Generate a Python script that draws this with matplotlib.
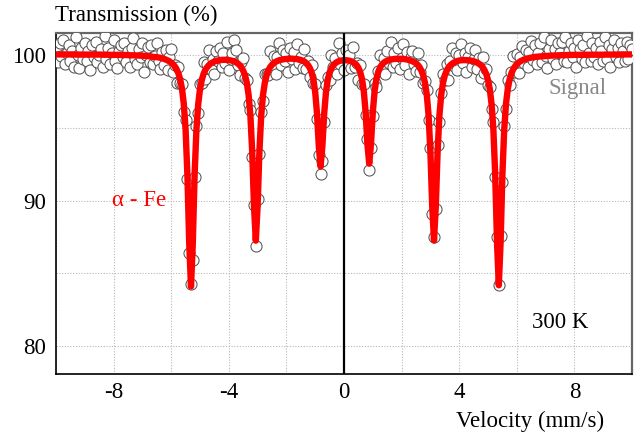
import numpy as np
import matplotlib
matplotlib.use("Agg")
import matplotlib.pyplot as plt

# ---- data -------------------------------------------------------------
# velocity channels (mm/s), uniform channel grid
n_channels = 321
velocity = np.linspace(-10.0, 10.0, n_channels)

# measured transmission (%) per channel
signal = [
    100.4, 99.5, 100.8, 99.9, 101.0, 99.35, 100.1, 100.65, 99.6, 100.25, 99.2, 101.2, 100.0, 99.1, 100.5, 99.75, 100.8, 99.6, 100.25, 98.95,
    100.65, 99.85, 100.9, 99.5, 100.0, 100.4, 99.2, 101.3, 99.75, 100.5, 99.35, 100.1, 101.0, 99.6, 99.1, 100.25, 100.65, 99.85, 100.8, 99.5,
    100.25, 99.2, 100.5, 101.15, 99.75, 99.35, 100.4, 99.85, 100.8, 98.85, 100.0, 100.55, 99.5, 100.7, 99.4, 99.9, 100.8, 99.55, 99.0, 100.2,
    99.3, 100.35, 98.95, 99.85, 100.4, 98.8, 99.3, 98.1, 99.2, 98.05, 98.0, 96.1, 95.5, 91.5, 86.4, 84.3, 85.9, 91.6, 95.1, 96.0,
    98.0, 98.1, 99.5, 98.35, 99.35, 100.35, 99.0, 99.75, 98.7, 100.25, 99.6, 100.5, 99.2, 100.1, 99.45, 100.9, 98.95, 99.7, 100.1, 101.0,
    100.3, 99.3, 98.65, 99.5, 99.8, 98.4, 98.3, 96.6, 96.2, 93.0, 89.7, 86.9, 90.1, 93.2, 96.1, 96.8, 98.7, 98.7, 98.6, 100.25,
    99.0, 99.9, 98.7, 99.85, 100.8, 99.3, 100.35, 99.55, 100.1, 98.8, 100.5, 99.7, 100.2, 99.05, 100.75, 99.45, 99.85, 99.1, 100.4, 99.0,
    99.55, 98.45, 99.3, 98.1, 98.0, 95.6, 93.1, 91.8, 92.7, 95.4, 97.9, 98.5, 98.3, 100.0, 99.2, 99.8, 98.7, 100.8, 99.35, 100.1,
    98.95, 100.35, 99.45, 100.0, 99.1, 100.55, 99.15, 99.45, 98.3, 99.3, 98.0, 98.0, 95.9, 94.2, 92.1, 93.6, 95.8, 98.1, 97.8, 98.9,
    100.0, 98.9, 99.8, 98.7, 100.25, 99.45, 100.9, 99.2, 100.1, 99.45, 100.5, 99.05, 99.8, 100.75, 99.3, 100.2, 98.7, 99.85, 100.25, 99.35,
    98.9, 100.1, 98.85, 99.3, 98.1, 98.2, 97.6, 95.5, 93.6, 89.1, 87.5, 89.4, 93.8, 95.4, 97.4, 98.7, 98.3, 99.4, 98.3, 99.55,
    100.45, 99.25, 100.15, 98.95, 100.0, 100.75, 99.45, 100.1, 98.85, 99.85, 100.5, 99.2, 99.75, 100.3, 99.0, 99.8, 98.4, 99.85, 98.75, 99.0,
    97.9, 97.8, 96.3, 95.4, 91.6, 87.5, 84.2, 87.6, 91.3, 95.1, 96.3, 98.3, 97.9, 98.8, 99.9, 98.8, 100.05, 98.75, 99.85, 100.6,
    99.45, 100.35, 99.15, 100.2, 100.95, 99.65, 100.7, 99.4, 100.15, 100.8, 99.5, 101.2, 99.9, 99.1, 100.4, 101.05, 99.75, 100.4, 99.35, 100.8,
    100.15, 100.9, 99.6, 101.2, 99.5, 100.25, 100.8, 99.85, 100.5, 99.2, 101.05, 100.4, 99.75, 100.65, 99.5, 101.3, 100.15, 99.6, 100.8, 99.85,
    100.5, 99.35, 100.9, 100.25, 99.6, 101.2, 99.75, 100.65, 99.2, 100.4, 101.05, 99.85, 100.5, 99.5, 100.8, 100.25, 99.6, 100.9, 99.75, 100.65, 100.4,
]

# fitted alpha-Fe sextet (%) per channel
fit = [
    100.03, 100.03, 100.03, 100.03, 100.03, 100.03, 100.03, 100.03, 100.03, 100.03, 100.03, 100.02, 100.02, 100.02, 100.02, 100.02, 100.02, 100.02, 100.02, 100.02,
    100.02, 100.02, 100.02, 100.02, 100.02, 100.02, 100.01, 100.01, 100.01, 100.01, 100.00, 100.00, 100.00, 100.00, 100.00, 100.00, 99.99, 99.99, 99.99, 99.99,
    99.98, 99.97, 99.97, 99.97, 99.96, 99.96, 99.95, 99.95, 99.94, 99.93, 99.92, 99.91, 99.90, 99.88, 99.86, 99.85, 99.84, 99.82, 99.80, 99.77,
    99.72, 99.68, 99.62, 99.56, 99.47, 99.36, 99.21, 99.01, 98.73, 98.31, 97.67, 96.63, 94.86, 91.76, 87.10, 84.10, 87.08, 91.74, 94.84, 96.61,
    97.65, 98.28, 98.70, 98.98, 99.16, 99.30, 99.41, 99.48, 99.54, 99.58, 99.62, 99.64, 99.65, 99.66, 99.66, 99.65, 99.64, 99.62, 99.59, 99.55,
    99.49, 99.41, 99.30, 99.14, 98.91, 98.59, 98.08, 97.25, 95.83, 93.35, 89.63, 87.25, 89.63, 93.35, 95.83, 97.25, 98.08, 98.59, 98.94, 99.16,
    99.32, 99.44, 99.52, 99.58, 99.63, 99.66, 99.69, 99.71, 99.72, 99.73, 99.74, 99.74, 99.73, 99.72, 99.71, 99.68, 99.65, 99.60, 99.54, 99.44,
    99.30, 99.10, 98.80, 98.30, 97.45, 95.97, 93.74, 92.33, 93.76, 95.98, 97.46, 98.30, 98.79, 99.09, 99.28, 99.41, 99.50, 99.56, 99.60, 99.62,
    99.63, 99.63, 99.62, 99.60, 99.56, 99.50, 99.42, 99.30, 99.11, 98.82, 98.34, 97.51, 96.07, 93.90, 92.53, 93.90, 96.07, 97.51, 98.34, 98.82,
    99.13, 99.32, 99.45, 99.54, 99.60, 99.65, 99.68, 99.70, 99.72, 99.73, 99.73, 99.73, 99.73, 99.72, 99.70, 99.68, 99.65, 99.61, 99.56, 99.50,
    99.42, 99.31, 99.15, 98.92, 98.59, 98.08, 97.25, 95.83, 93.35, 89.63, 87.26, 89.63, 93.35, 95.83, 97.25, 98.08, 98.59, 98.91, 99.13, 99.28,
    99.39, 99.47, 99.53, 99.58, 99.61, 99.63, 99.64, 99.64, 99.64, 99.63, 99.62, 99.59, 99.56, 99.52, 99.46, 99.39, 99.29, 99.16, 98.96, 98.69,
    98.27, 97.64, 96.61, 94.85, 91.77, 87.15, 84.19, 87.16, 91.78, 94.87, 96.64, 97.67, 98.31, 98.73, 99.01, 99.21, 99.36, 99.47, 99.56, 99.62,
    99.68, 99.72, 99.76, 99.78, 99.81, 99.83, 99.86, 99.87, 99.88, 99.89, 99.90, 99.91, 99.92, 99.93, 99.94, 99.95, 99.95, 99.96, 99.96, 99.97,
    99.97, 99.98, 99.98, 99.98, 99.99, 99.99, 99.99, 100.00, 100.00, 100.00, 100.00, 100.00, 100.00, 100.01, 100.01, 100.01, 100.01, 100.01, 100.01, 100.01,
    100.01, 100.01, 100.01, 100.01, 100.01, 100.02, 100.02, 100.02, 100.02, 100.02, 100.02, 100.02, 100.02, 100.03, 100.03, 100.03, 100.03, 100.03, 100.03, 100.03, 100.03,
]

x_ticks = [-8, -4, 0, 4, 8]
y_ticks = [80, 90, 100]

# ---- plot -------------------------------------------------------------
serif = ["Liberation Serif", "DejaVu Serif"]
plt.rcParams["font.family"] = serif
FS = 16.5

fig = plt.figure(figsize=(6.38, 4.34), dpi=100)
ax = fig.add_axes([56 / 638, 1 - 374 / 434, (632 - 56) / 638, (374 - 33) / 434])

n = min(len(velocity), len(signal), len(fit))
ax.plot(velocity[:n], signal[:n], linestyle="none", marker="o", markersize=8.0,
        markerfacecolor="white", markeredgecolor="#555555", markeredgewidth=0.75, zorder=3)
ax.plot(velocity[:n], fit[:n], color="#ff0000", linewidth=4.6, solid_joinstyle="round",
        solid_capstyle="round", zorder=4)

ax.axvline(0, color="black", linewidth=1.6, zorder=5)

ax.set_xlim(-10, 10)
ax.set_ylim(78.1, 101.5)
ax.set_xticks(x_ticks)
ax.set_xticklabels([str(v) for v in x_ticks])
ax.set_yticks(y_ticks)
ax.set_yticklabels([str(v) for v in y_ticks])
ax.set_xticks([-10, -6, -2, 2, 6, 10], minor=True)
ax.set_yticks([85, 95], minor=True)
ax.tick_params(which="both", length=0)
ax.tick_params(axis="x", pad=6, labelsize=FS)
ax.tick_params(axis="y", pad=7, labelsize=FS)
ax.grid(True, which="both", color="#b8b8b8", linestyle=(0, (1, 1.5)), linewidth=0.8, zorder=0)
ax.set_axisbelow(True)

for side in ("left", "bottom"):
    ax.spines[side].set_color("black")
    ax.spines[side].set_linewidth(1.2)
for side in ("top", "right"):
    ax.spines[side].set_color("#666666")
    ax.spines[side].set_linewidth(1.6)

fig.text(55 / 638, 1 - 15 / 434, "Transmission (%)", fontsize=FS, ha="left", va="center")
fig.text(530 / 638, 1 - 421 / 434, "Velocity (mm/s)", fontsize=FS, ha="center", va="center")

ax.text(-7.1, 90.0, "\u03b1 - Fe", color="#ff0000", fontsize=FS, ha="center", va="center")
ax.text(8.1, 97.7, "Signal", color="#888888", fontsize=FS, ha="center", va="center")
ax.text(7.5, 81.6, "300 K", color="black", fontsize=FS, ha="center", va="center")

fig.savefig("out.png", dpi=100)
print(len(velocity), len(signal), len(fit))
